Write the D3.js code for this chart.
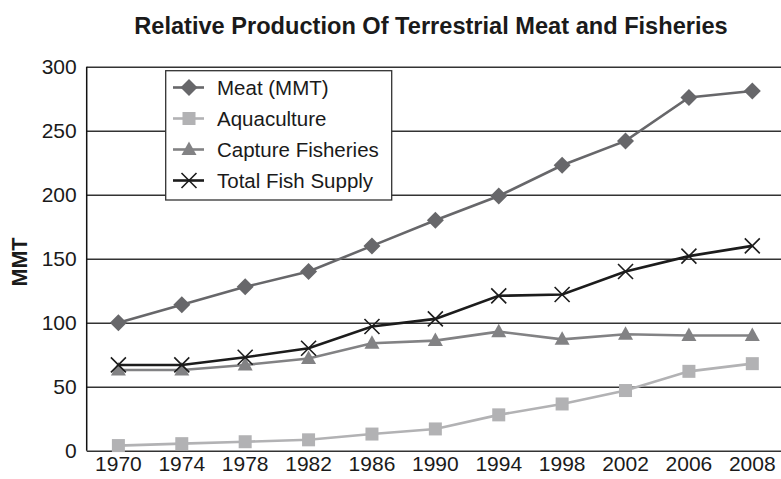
<!DOCTYPE html>
<html>
<head>
<meta charset="utf-8">
<script src="https://cdn.jsdelivr.net/npm/d3@7"></script>
<style>
  body { margin: 0; background: #fff; }
  text { font-family: "Liberation Sans", Arial, sans-serif; }
</style>
</head>
<body>
<div id="chart"></div>
<script>
// data
var years = ["1970","1974","1978","1982","1986","1990","1994","1998","2002","2006","2008"];
var meat = [100, 114, 128, 140, 160, 180, 199, 223, 242, 276, 281];
var aquaculture = [4, 5.5, 7, 8.5, 13, 17, 28, 36.5, 47, 62, 68];
var capture = [63, 63, 67, 72, 84, 86, 93, 87, 91, 90, 90];
var totalFish = [67, 67, 73, 80, 97, 103, 121, 122, 140, 152, 160];
var yTicks = [0, 50, 100, 150, 200, 250, 300];

var series = [
  {name: "Meat (MMT)", values: meat, color: "#67676a", marker: "diamond"},
  {name: "Aquaculture", values: aquaculture, color: "#b2b2b4", marker: "square"},
  {name: "Capture Fisheries", values: capture, color: "#828284", marker: "triangle"},
  {name: "Total Fish Supply", values: totalFish, color: "#1c1c1c", marker: "cross"}
];

var W = 781, H = 479;
var plotLeft = 86.7, plotRight = 784, plotTop = 66.7, plotBottom = 450.7;

var svg = d3.select("#chart").append("svg")
  .attr("width", W).attr("height", H);

var x = d3.scaleBand().domain(years).range([plotLeft, plotRight]);
var y = d3.scaleLinear().domain([0, 300]).range([plotBottom, plotTop]);

// gridlines
svg.append("g")
  .attr("transform", "translate(" + plotLeft + ",0)")
  .call(d3.axisLeft(y).tickValues(yTicks).tickSize(-(plotRight - plotLeft)).tickFormat(""))
  .call(function(g) { g.select(".domain").remove(); })
  .selectAll("line").attr("stroke", "#333").attr("stroke-width", 1.5);

// y axis labels
svg.append("g")
  .attr("transform", "translate(" + plotLeft + ",0)")
  .call(d3.axisLeft(y).tickValues(yTicks).tickSize(0).tickPadding(10))
  .call(function(g) { g.select(".domain").remove(); })
  .selectAll("text")
    .attr("font-size", 21).attr("fill", "#1a1a1a")
    .attr("font-family", "Liberation Sans, Arial, sans-serif");

// x axis
svg.append("g")
  .attr("transform", "translate(0," + plotBottom + ")")
  .call(d3.axisBottom(x).tickSize(0).tickPadding(5))
  .call(function(g) { g.select(".domain").remove(); })
  .selectAll("text")
    .attr("font-size", 21).attr("fill", "#1a1a1a")
    .attr("font-family", "Liberation Sans, Arial, sans-serif");

// left axis line
svg.append("line")
  .attr("x1", plotLeft).attr("x2", plotLeft).attr("y1", plotTop).attr("y2", plotBottom)
  .attr("stroke", "#111").attr("stroke-width", 1.5);

// title
svg.append("text")
  .attr("x", 431).attr("y", 33.5)
  .attr("text-anchor", "middle")
  .attr("font-size", 23.6).attr("font-weight", "bold").attr("fill", "#1a1a1a")
  .text("Relative Production Of Terrestrial Meat and Fisheries");

// y label
svg.append("text")
  .attr("transform", "translate(27,262) rotate(-90)")
  .attr("text-anchor", "middle")
  .attr("font-size", 21.5).attr("font-weight", "bold").attr("fill", "#1a1a1a")
  .text("MMT");

var cx = function(i) { return x(years[i]) + x.bandwidth() / 2; };

function drawMarker(g, type, px, py, color) {
  if (type === "diamond") {
    g.append("path")
      .attr("d", "M" + px + "," + (py - 8.5) + "L" + (px + 8.5) + "," + py + "L" + px + "," + (py + 8.5) + "L" + (px - 8.5) + "," + py + "Z")
      .attr("fill", color);
  } else if (type === "square") {
    g.append("rect")
      .attr("x", px - 6.5).attr("y", py - 6.5).attr("width", 13).attr("height", 13)
      .attr("fill", color);
  } else if (type === "triangle") {
    g.append("path")
      .attr("d", "M" + px + "," + (py - 8) + "L" + (px + 7.5) + "," + (py + 5.5) + "L" + (px - 7.5) + "," + (py + 5.5) + "Z")
      .attr("fill", color);
  } else {
    g.append("path")
      .attr("d", "M" + (px - 7.5) + "," + (py - 7.5) + "L" + (px + 7.5) + "," + (py + 7.5) +
                 "M" + (px + 7.5) + "," + (py - 7.5) + "L" + (px - 7.5) + "," + (py + 7.5))
      .attr("stroke", color).attr("stroke-width", 1.6).attr("fill", "none");
  }
}

var line = d3.line()
  .x(function(d, i) { return cx(i); })
  .y(function(d) { return y(d); });

// draw order: aquaculture, capture, meat, total
[1, 2, 0, 3].forEach(function(k) {
  var s = series[k];
  var g = svg.append("g");
  g.append("path")
    .datum(s.values)
    .attr("d", line)
    .attr("fill", "none")
    .attr("stroke", s.color)
    .attr("stroke-width", 2.6);
  s.values.forEach(function(v, i) {
    drawMarker(g, s.marker, cx(i), y(v), s.color);
  });
});

// legend
var leg = svg.append("g");
leg.append("rect")
  .attr("x", 165.7).attr("y", 70.7).attr("width", 226).attr("height", 129.3)
  .attr("fill", "#fff").attr("stroke", "#333").attr("stroke-width", 1.3);
series.forEach(function(s, i) {
  var ly = 87.5 + i * 31;
  leg.append("line")
    .attr("x1", 173).attr("x2", 204).attr("y1", ly).attr("y2", ly)
    .attr("stroke", s.color).attr("stroke-width", 2.6);
  drawMarker(leg, s.marker, 189, ly, s.color);
  leg.append("text")
    .attr("x", 217).attr("y", ly + 7)
    .attr("font-size", 20.5).attr("fill", "#1a1a1a")
    .text(s.name);
});
</script>
</body>
</html>
